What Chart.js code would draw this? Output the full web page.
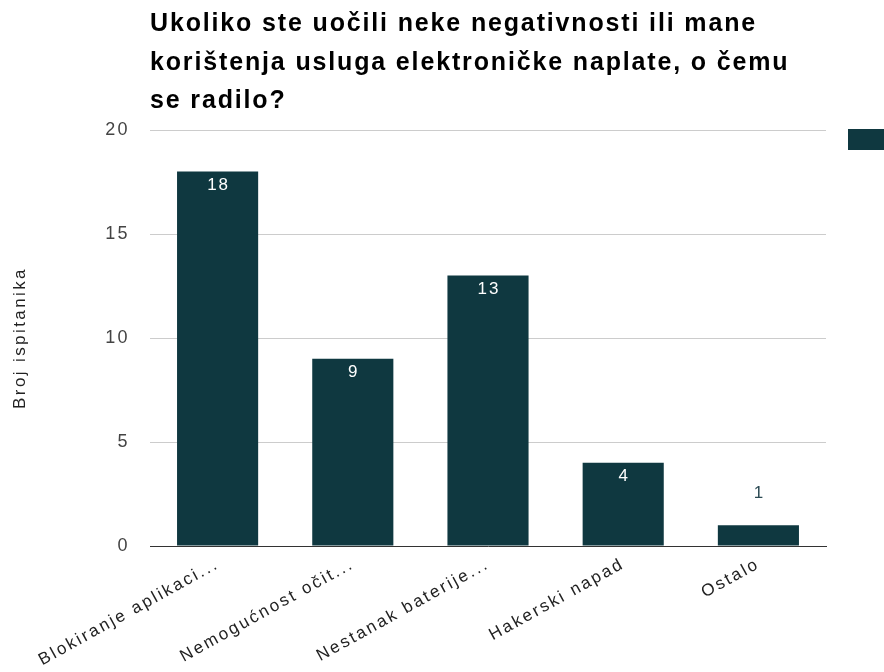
<!DOCTYPE html>
<html>
<head>
<meta charset="utf-8">
<script src="https://cdn.jsdelivr.net/npm/chart.js@4.4.1/dist/chart.umd.min.js"></script>
<style>
html,body{margin:0;padding:0;background:#fff;}
#wrap{width:884px;height:672px;}
</style>
</head>
<body>
<div id="wrap"><canvas id="c" width="884" height="672"></canvas></div>
<script>
const titleLines = ["Ukoliko ste uočili neke negativnosti ili mane", "korištenja usluga elektroničke naplate, o čemu", "se radilo?"];
const categories = ["Blokiranje aplikaci...", "Nemogućnost očit...", "Nestanak baterije...", "Hakerski napad", "Ostalo"];
const counts = [18, 9, 13, 4, 1];
const yTicks = [0, 5, 10, 15, 20];
const yAxisTitle = "Broj ispitanika";
const barColor = "#0f3840";

const FONT = "'Liberation Sans', Arial, sans-serif";

const spacingPlugin = {
  id: 'spacing',
  beforeUpdate(chart) { chart.ctx.letterSpacing = '2.4px'; },
  beforeDraw(chart) { chart.ctx.letterSpacing = '2.4px'; }
};

const titlePlugin = {
  id: 'leftTitle',
  afterDraw(chart) {
    const ctx = chart.ctx;
    ctx.save();
    ctx.letterSpacing = '1.85px';
    ctx.fillStyle = '#000';
    ctx.font = "bold 25px " + FONT;
    ctx.textBaseline = 'middle';
    ctx.textAlign = 'left';
    const x = chart.chartArea.left;
    const ys = [24, 63, 101];
    titleLines.forEach((t, i) => ctx.fillText(t, x, ys[i]));
    // legend swatch (label cut off at right edge)
    ctx.fillStyle = barColor;
    ctx.fillRect(chart.chartArea.right + 22, 129, 40, 21);
    ctx.restore();
  }
};

const labelPlugin = {
  id: 'barLabels',
  afterDatasetsDraw(chart) {
    const ctx = chart.ctx;
    const meta = chart.getDatasetMeta(0);
    ctx.save();
    ctx.letterSpacing = '2px';
    ctx.font = "17px " + FONT;
    ctx.textAlign = 'center';
    ctx.textBaseline = 'middle';
    meta.data.forEach((bar, i) => {
      const v = chart.data.datasets[0].data[i];
      const h = bar.base - bar.y;
      if (h > 30) {
        ctx.fillStyle = '#ffffff';
        ctx.fillText(String(v), bar.x + 1, bar.y + 14);
      } else {
        ctx.fillStyle = '#2b4a53';
        ctx.fillText(String(v), bar.x + 1, bar.y - 32);
      }
    });
    ctx.restore();
  }
};

new Chart(document.getElementById('c'), {
  type: 'bar',
  data: {
    labels: categories,
    datasets: [{
      label: '',
      data: counts,
      backgroundColor: barColor,
      borderWidth: 0,
      categoryPercentage: 0.6,
      barPercentage: 1.0
    }]
  },
  options: {
    responsive: false,
    animation: false,
    devicePixelRatio: 1,
    layout: { padding: { top: 130, right: 58, left: 0, bottom: 0 } },
    plugins: {
      legend: { display: false },
      title: { display: false },
      tooltip: { enabled: false }
    },
    scales: {
      x: {
        grid: { display: false, drawTicks: false },
        border: { display: true, color: '#333333', width: 1 },
        ticks: {
          color: '#222222',
          font: { family: FONT, size: 17 },
          minRotation: 29,
          maxRotation: 29,
          autoSkip: false,
          padding: 8
        },
        afterFit(s) { s.height = 672 - 546; }
      },
      y: {
        min: 0,
        max: 20,
        afterBuildTicks(s) { s.ticks = yTicks.map(v => ({ value: v })); },
        grid: { color: '#cccccc', drawTicks: false, lineWidth: 1 },
        border: { display: false },
        ticks: {
          color: '#444444',
          font: { family: FONT, size: 18 },
          padding: 20
        },
        title: {
          display: true,
          text: yAxisTitle,
          color: '#222222',
          font: { family: FONT, size: 17 },
          padding: { top: 10, bottom: 0 }
        },
        afterFit(s) { s.width = 150; }
      }
    }
  },
  plugins: [spacingPlugin, titlePlugin, labelPlugin]
});
</script>
</body>
</html>
